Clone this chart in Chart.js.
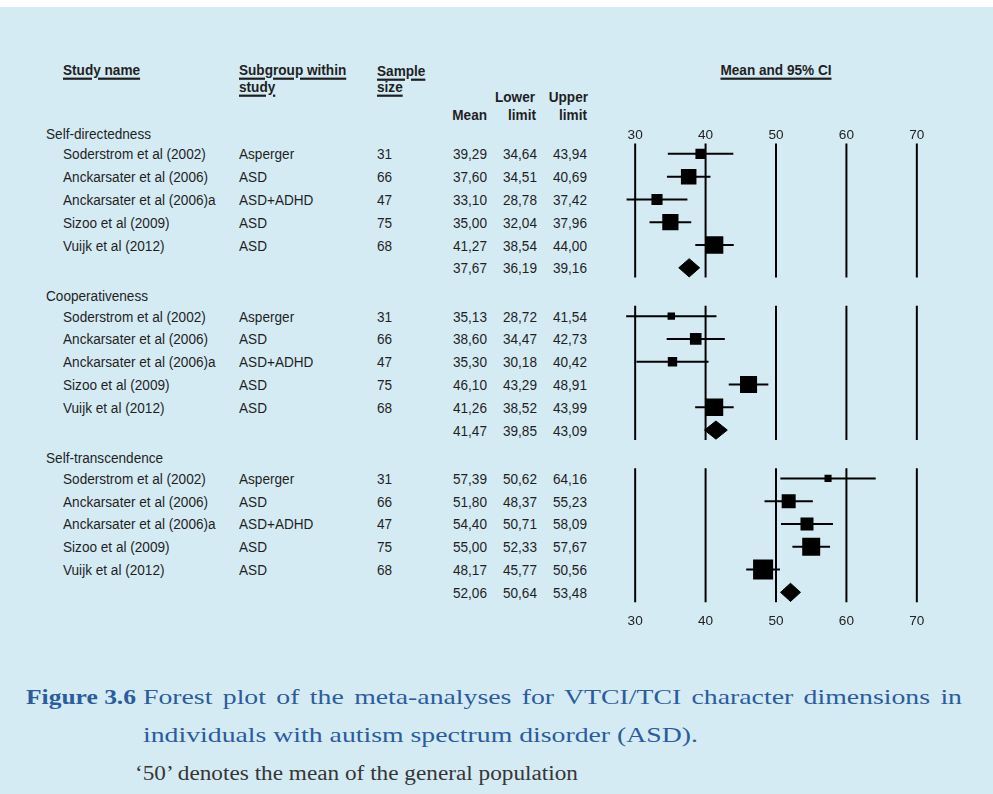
<!DOCTYPE html>
<html>
<head>
<meta charset="utf-8">
<script src="https://cdn.jsdelivr.net/npm/chart.js@4.4.1/dist/chart.umd.min.js"></script>
<style>
    html, body { margin: 0; padding: 0; }
    body {
        width: 993px; height: 794px; position: relative; overflow: hidden;
        background: #d5ebf4; color: #1f1f1f;
        font-family: "Liberation Sans", Arial, sans-serif;
    }
    #topband { position: absolute; left: 0; top: 0; width: 993px; height: 7px; background: #fff; }
    .t { position: absolute; font-size: 13.6px; line-height: 16px; white-space: nowrap; }
    .b { font-weight: bold; }
    .u { text-decoration: underline; text-underline-offset: 2px; text-decoration-thickness: 1.5px; }
    #plot { position: absolute; left: 607px; top: 129px; }
    .cap {
        position: absolute; white-space: nowrap; transform-origin: 0 0;
        font-family: "Liberation Serif", "DejaVu Serif", serif;
    }
    .blue { color: #2b5c9e; font-size: 22px; line-height: 26px; }
    #cap1rest { text-align: justify; text-align-last: justify; white-space: normal; }
    #cap3 { color: #363636; font-size: 20px; line-height: 24px; }
</style>
</head>
<body>
<div id="topband"></div>
<canvas id="plot" width="338" height="503"></canvas>

<div class="cap blue" id="cap1fig" style="left:26px; top:684px;"><b>Figure 3.6</b></div>
<div class="cap blue" id="cap1rest" style="left:143px; top:684px;">Forest plot of the meta-analyses for VTCI/TCI character dimensions in</div>
<div class="cap blue" id="cap2" style="left:143px; top:722px;">individuals with autism spectrum disorder (ASD).</div>
<div class="cap" id="cap3" style="left:135px; top:761px;">‘50’ denotes the mean of the general population</div>

<script>
    // forest plot: VTCI/TCI character dimensions in ASD
    var sectionNames = ["Self-directedness", "Cooperativeness", "Self-transcendence"];
    var studyNames = ["Soderstrom et al (2002)", "Anckarsater et al (2006)", "Anckarsater et al (2006)a", "Sizoo et al (2009)", "Vuijk et al (2012)"];
    var subgroups = ["Asperger", "ASD", "ASD+ADHD", "ASD", "ASD"];
    var sampleSizes = [31, 66, 47, 75, 68];

    var studyMeans = [
        [39.29, 37.60, 33.10, 35.00, 41.27],
        [35.13, 38.60, 35.30, 46.10, 41.26],
        [57.39, 51.80, 54.40, 55.00, 48.17]
    ];
    var studyLowers = [
        [34.64, 34.51, 28.78, 32.04, 38.54],
        [28.72, 34.47, 30.18, 43.29, 38.52],
        [50.62, 48.37, 50.71, 52.33, 45.77]
    ];
    var studyUppers = [
        [43.94, 40.69, 37.42, 37.96, 44.00],
        [41.54, 42.73, 40.42, 48.91, 43.99],
        [64.16, 55.23, 58.09, 57.67, 50.56]
    ];
    var pooledMeans = [37.67, 41.47, 52.06];
    var pooledLowers = [36.19, 39.85, 50.64];
    var pooledUppers = [39.16, 43.09, 53.48];

    var xTicks = [30, 40, 50, 60, 70];

    // layout (row units on the y scale)
    var SECTION_STEP = 7.12;
    var LINE_FROM = 0.55, LINE_TO = 6.43;
    var BOX_K = 96;          // box side in px = BOX_K / CI width (inverse-variance look)
    var DIAMOND_H = 0.4;
    var FONT = '"Liberation Sans", Arial, sans-serif';

    function rowY(s, r) { return s * SECTION_STEP + r; }
    function fmt(v) { return v.toFixed(2).replace(".", ","); }

    var datasets = [];

    // boxes
    var boxes = [], radii = [];
    sectionNames.forEach(function (name, s) {
        studyMeans[s].forEach(function (m, i) {
            boxes.push({ x: m, y: rowY(s, i + 1) });
            radii.push(BOX_K / (studyUppers[s][i] - studyLowers[s][i]) / Math.SQRT2);
        });
    });
    datasets.push({
        label: "Studies", data: boxes, showLine: false,
        pointStyle: "rect", pointRadius: radii, pointBackgroundColor: "#000", pointBorderWidth: 0
    });

    // pooled diamonds
    sectionNames.forEach(function (name, s) {
        var y = rowY(s, 6);
        datasets.push({
            label: "Pooled " + name,
            data: [
                { x: pooledLowers[s], y: y }, { x: pooledMeans[s], y: y - DIAMOND_H },
                { x: pooledUppers[s], y: y }, { x: pooledMeans[s], y: y + DIAMOND_H },
                { x: pooledLowers[s], y: y }
            ],
            showLine: true, fill: "shape", backgroundColor: "#000", borderColor: "#000",
            borderWidth: 1, pointRadius: 0, tension: 0
        });
    });

    // confidence intervals
    sectionNames.forEach(function (name, s) {
        studyMeans[s].forEach(function (m, i) {
            var y = rowY(s, i + 1);
            datasets.push({
                label: studyNames[i], data: [{ x: studyLowers[s][i], y: y }, { x: studyUppers[s][i], y: y }],
                showLine: true, borderColor: "#000", borderWidth: 2, pointRadius: 0
            });
        });
    });

    // reference lines
    sectionNames.forEach(function (name, s) {
        xTicks.forEach(function (t) {
            datasets.push({
                label: "ref " + t, data: [{ x: t, y: rowY(s, LINE_FROM) }, { x: t, y: rowY(s, LINE_TO) }],
                showLine: true, borderColor: "#000", borderWidth: 2, pointRadius: 0
            });
        });
    });

    function xAxis(pos, pad) {
        return {
            type: "linear", position: pos, axis: "x", min: 26, max: 74,
            afterBuildTicks: function (sc) { sc.ticks = xTicks.map(function (v) { return { value: v }; }); },
            ticks: { font: { family: FONT, size: 13.6 }, color: "#222", padding: pad, maxRotation: 0, autoSkip: false },
            grid: { display: false, drawTicks: false },
            border: { display: false }
        };
    }

    var canvas = document.getElementById("plot");
    var chart = new Chart(canvas, {
        type: "scatter",
        data: { datasets: datasets },
        options: {
            responsive: false, animation: false, events: [],
            layout: { padding: 0, autoPadding: false },
            plugins: { legend: { display: false }, tooltip: { enabled: false } },
            scales: {
                x: xAxis("bottom", 3),
                x2: xAxis("top", -2),
                y: { type: "linear", reverse: true, min: 0.45, max: 21, display: false }
            }
        }
    });

    // table text, placed on the chart's own y scale
    var yScale = chart.scales.y, xScale = chart.scales.x;
    var top0 = canvas.offsetTop, left0 = canvas.offsetLeft;

    function addText(txt, x, cy, cls, align) {
        var d = document.createElement("div");
        d.className = "t " + (cls || "");
        d.textContent = txt;
        var tf = "scaleY(1.1)";
        if (align === "right") d.style.right = (993 - x) + "px";
        else if (align === "center") { d.style.left = x + "px"; tf = "translateX(-50%) " + tf; }
        else d.style.left = x + "px";
        d.style.transform = tf;
        d.style.top = (cy - 8) + "px";
        document.body.appendChild(d);
        return d;
    }
    function rowPx(idx) { return top0 + yScale.getPixelForValue(idx) + 1.5; }

    var COL = { section: 46, name: 63, sub: 239, n: 377, mean: 487, lower: 537, upper: 587 };

    addText("Study name", COL.name, 71, "b u");
    addText("Subgroup within", COL.sub, 71, "b u");
    addText("study", COL.sub, 88, "b u");
    addText("Sample", COL.n, 72, "b u");
    addText("size", COL.n, 88, "b u");
    addText("Mean", COL.mean, 116, "b", "right");
    addText("Lower", COL.lower - 2, 98, "b", "right");
    addText("limit", COL.lower - 1, 116, "b", "right");
    addText("Upper", COL.upper + 1, 98, "b", "right");
    addText("limit", COL.upper, 116, "b", "right");
    addText("Mean and 95% CI", left0 + xScale.getPixelForValue(50), 71, "b u", "center");

    sectionNames.forEach(function (name, s) {
        addText(name, COL.section, rowPx(rowY(s, 0.1)));
        studyNames.forEach(function (st, i) {
            var cy = rowPx(rowY(s, i + 1));
            addText(st, COL.name, cy);
            addText(subgroups[i], COL.sub, cy);
            addText(String(sampleSizes[i]), COL.n, cy);
            addText(fmt(studyMeans[s][i]), COL.mean, cy, "", "right");
            addText(fmt(studyLowers[s][i]), COL.lower, cy, "", "right");
            addText(fmt(studyUppers[s][i]), COL.upper, cy, "", "right");
        });
        var cp = rowPx(rowY(s, 6));
        addText(fmt(pooledMeans[s]), COL.mean, cp, "", "right");
        addText(fmt(pooledLowers[s]), COL.lower, cp, "", "right");
        addText(fmt(pooledUppers[s]), COL.upper, cp, "", "right");
    });

    // caption: stretch the serif to the width of the printed caption
    var cap2 = document.getElementById("cap2");
    var f = 555 / cap2.getBoundingClientRect().width;
    cap2.style.transform = "scaleX(" + f + ")";
    var fig = document.getElementById("cap1fig");
    fig.style.transform = "scaleX(" + (110 / fig.getBoundingClientRect().width) + ")";
    var rest = document.getElementById("cap1rest");
    rest.style.width = (819 / f) + "px";
    rest.style.transform = "scaleX(" + f + ")";
    var cap3 = document.getElementById("cap3");
    cap3.style.transform = "scaleX(" + (443 / cap3.getBoundingClientRect().width) + ")";
</script>
</body>
</html>
